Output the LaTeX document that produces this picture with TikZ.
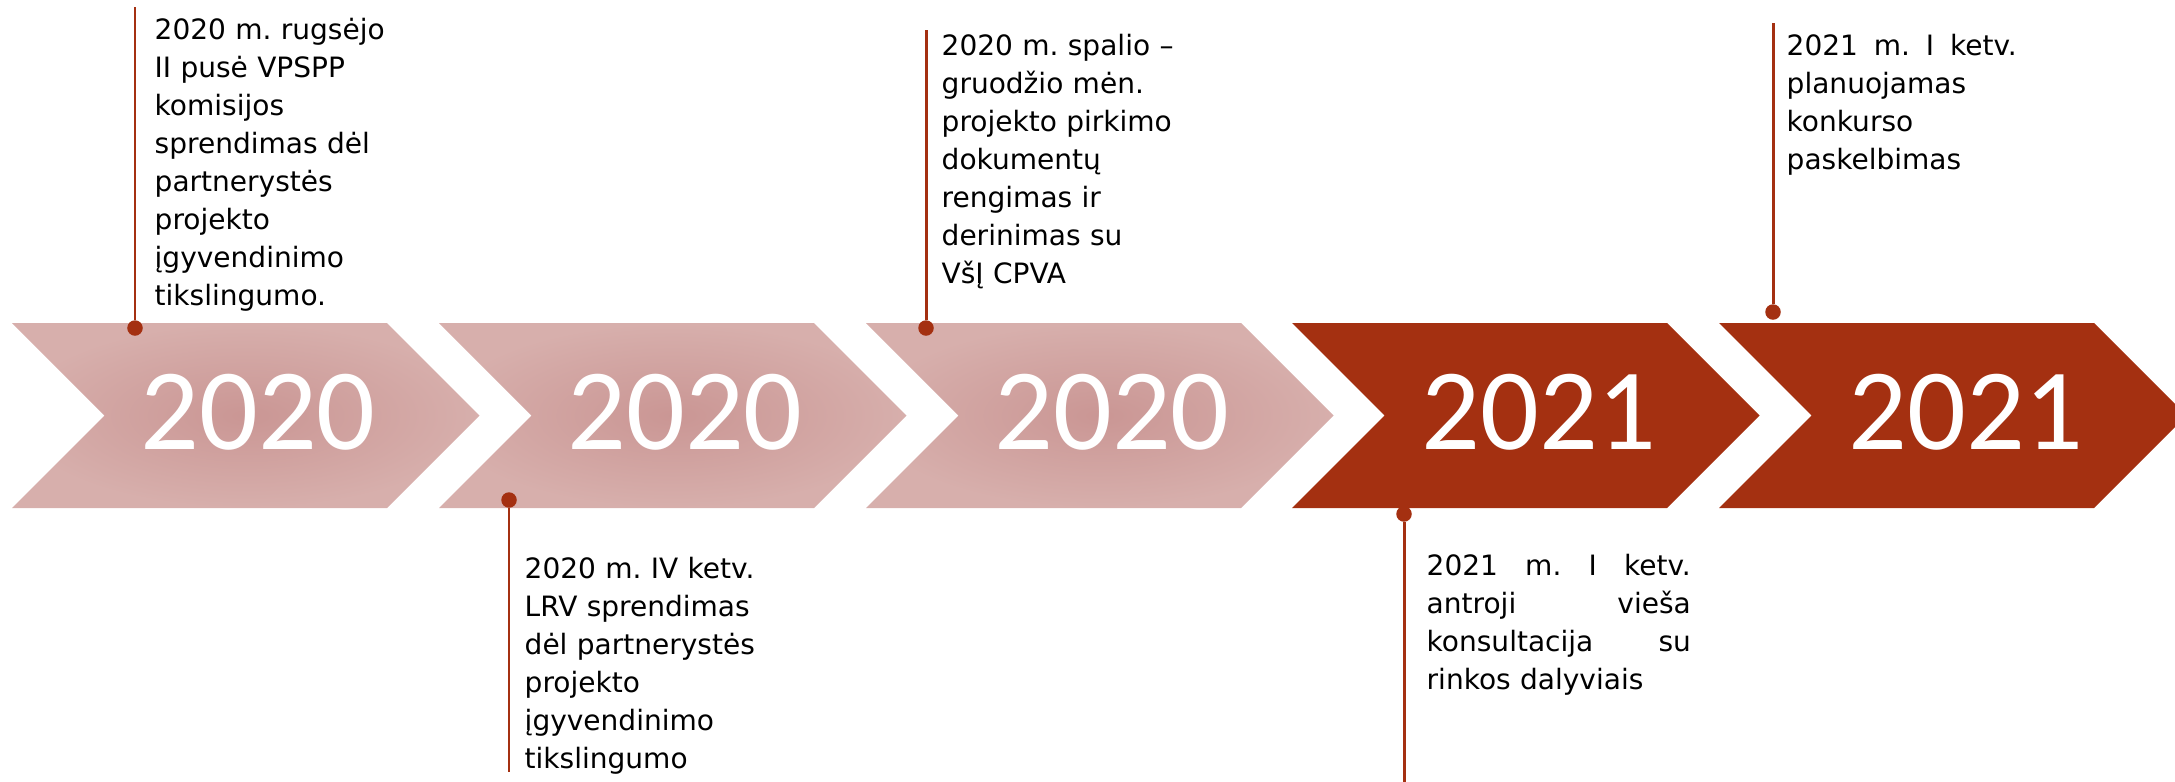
\documentclass[tikz,border=0pt]{standalone}
\usepackage{fontspec}
\setmainfont{DejaVu Sans}
\newfontfamily\yearfont{Carlito}
\usetikzlibrary{positioning}
\frenchspacing

\definecolor{rust}{RGB}{164,48,17}
\definecolor{blush}{RGB}{215,175,172}
\definecolor{blushdark}{RGB}{202,150,148}

\begin{document}
\begin{tikzpicture}[x=0.01cm, y=-0.01cm, node distance=4.2675cm, on grid,
    pale/.style={inner color=blushdark, outer color=blush},
    deep/.style={fill=rust},
    year/.style={text=white, inner sep=0pt, font=\yearfont\fontsize{33pt}{33pt}\selectfont},
    note/.style={anchor=north west, inner sep=0pt, align=left, font=\fontsize{7.97pt}{10.81pt}\selectfont},
    pin/.style={circle, fill=rust, inner sep=0pt, minimum size=0.155cm},
    stem/.style={draw=rust, line width=0.85pt}]
    \clip (0,0) rectangle (2175,781);
    \foreach \x in {12,439,866}
        \path[pale] (\x,323) -- ++(375,0) -- ++(92.5,92.5) -- ++(-92.5,92.5) -- ++(-375,0) -- ++(92.5,-92.5) -- cycle;
    \foreach \x in {1292,1719}
        \path[deep] (\x,323) -- ++(375,0) -- ++(92.5,92.5) -- ++(-92.5,92.5) -- ++(-375,0) -- ++(92.5,-92.5) -- cycle;

    \node[year, anchor=base] (y1) at (258,449) {2020};
    \node[year, right=of y1] (y2) {2020};
    \node[year, right=of y2] (y3) {2020};
    \node[year, right=of y3] (y4) {2021};
    \node[year, right=of y4] (y5) {2021};

    \node[note, text width=2.6cm] (n1) at (154,17) {2020 m. rugsėjo\\II pusė VPSPP\\komisijos\\sprendimas dėl\\partnerystės\\projekto\\įgyvendinimo\\tikslingumo.};
    \node[note, text width=2.6cm] (n2) at (524,556) {2020 m. IV ketv.\\LRV sprendimas\\dėl partnerystės\\projekto\\įgyvendinimo\\tikslingumo};
    \node[note, text width=2.6cm] (n3) at (941,33) {2020 m. spalio –\\gruodžio mėn.\\projekto pirkimo\\dokumentų\\rengimas ir\\derinimas su\\VšĮ CPVA};
    \node[note, text width=2.64cm] (n4) at (1426,553) {2021\hfill m.\hfill I\hfill ketv.\\antroji\hfill vieša\\konsultacija\hfill su\\rinkos dalyviais};
    \node[note, text width=2.3cm] (n5) at (1786,33) {2021\hfill m.\hfill I\hfill ketv.\\planuojamas\\konkurso\\paskelbimas};

    \node[pin] (d1) at (135,328) {};
    \node[pin] (d2) at (509,500) {};
    \node[pin] (d3) at (926,328) {};
    \node[pin] (d4) at (1404,514) {};
    \node[pin] (d5) at (1773,312) {};
    \coordinate (e1) at (135,7);
    \coordinate (e2) at (509,772);
    \coordinate (e3) at (926,30);
    \coordinate (e4) at (1404,790);
    \coordinate (e5) at (1773,23);
    \foreach \i in {1,...,5}
        \draw[stem] (d\i) -- (e\i);
\end{tikzpicture}
\end{document}
